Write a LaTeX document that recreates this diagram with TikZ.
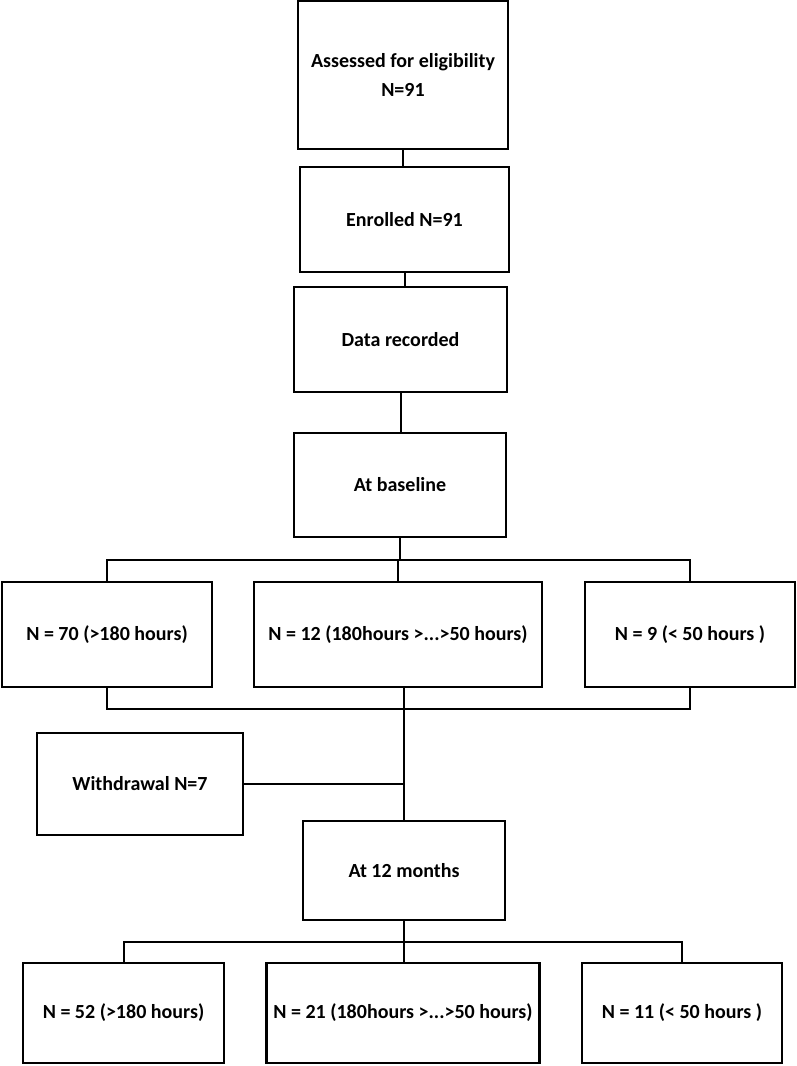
\documentclass[tikz,border=0pt]{standalone}
\usepackage{fontspec}
\setmainfont{Carlito}
\usetikzlibrary{calc}

\tikzset{
    flowbox/.style={draw, line width=2.2pt, inner sep=0pt, outer sep=0pt,
        font=\fontsize{20}{29}\selectfont\bfseries, align=center},
    link/.style={line width=2pt}
}

\begin{document}
\begin{tikzpicture}[x=1pt,y=-1pt]
    \useasboundingbox (0,0) rectangle (797,1066);

    % top column
    \node [flowbox, minimum width=210, minimum height=148] (assess) at (403,75) {Assessed for eligibility\\N=91};
    \node [flowbox, minimum width=209, minimum height=105] (enrol) at (404.5,219.5) {Enrolled N=91};
    \node [flowbox, minimum width=213, minimum height=105] (data) at (400.5,339.5) {Data recorded};
    \node [flowbox, minimum width=212, minimum height=104] (base) at (400,485) {At baseline};

    \draw [link] (assess.south) -- (assess.south |- enrol.north);
    \draw [link] (enrol.south) -- (enrol.south |- data.north);
    \draw [link] (data.south) -- (data.south |- base.north);

    % baseline groups
    \node [flowbox, minimum width=210, minimum height=105] (grpa) at (107,634.5) {N = 70 (>180 hours)};
    \node [flowbox, minimum width=288, minimum height=105] (grpb) at (398,634.5) {N = 12 (180hours >...>50 hours)};
    \node [flowbox, minimum width=210, minimum height=105] (grpc) at (690,634.5) {N = 9 (< 50 hours )};

    \coordinate (split) at (400,560);
    \draw [link] (base.south) -- (split);
    \draw [link] (grpa.north) -- (grpa.north |- split) -- (grpc.north |- split) -- (grpc.north);
    \draw [link] (grpb.north) -- (grpb.north |- split);

    % follow up
    \node [flowbox, minimum width=206, minimum height=102] (withdraw) at (140,784) {Withdrawal N=7};
    \node [flowbox, minimum width=202, minimum height=99] (month) at (404,870.5) {At 12 months};

    \coordinate (join) at (403,709);
    \draw [link] (grpa.south) -- (grpa.south |- join) -- (grpc.south |- join) -- (grpc.south);
    \draw [link] (month.north) -- (month.north |- grpb.south);
    \draw [link] (withdraw.east) -- (withdraw.east -| month.north);

    % 12 month groups
    \node [flowbox, minimum width=201, minimum height=100] (grpd) at (123.5,1013) {N = 52 (>180 hours)};
    \node [flowbox, minimum width=273, minimum height=100] (grpe) at (403,1013) {N = 21 (180hours >...>50 hours)};
    \node [flowbox, minimum width=200, minimum height=100] (grpf) at (682,1013) {N = 11 (< 50 hours )};

    \coordinate (split2) at (403,942);
    \draw [link] (month.south) -- (month.south |- grpe.north);
    \draw [link] (grpd.north) -- (grpd.north |- split2) -- (grpf.north |- split2) -- (grpf.north);

\end{tikzpicture}
\end{document}
